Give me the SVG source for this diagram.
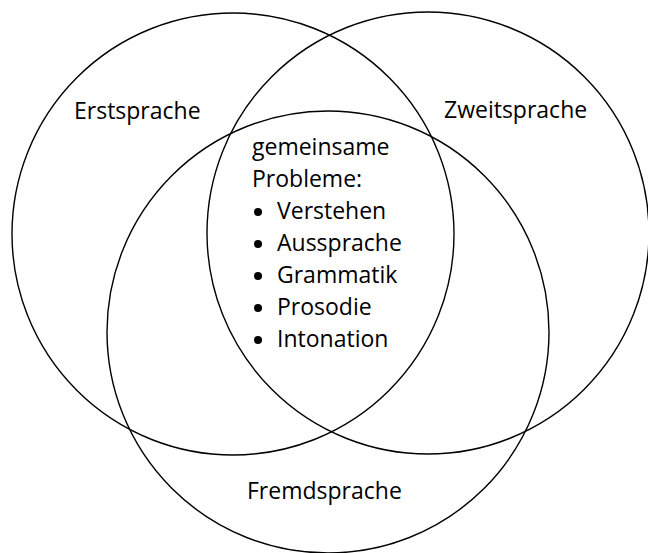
<svg xmlns="http://www.w3.org/2000/svg" width="648" height="553" viewBox="0 0 648 553">
<style>
.c{fill:none;stroke:#000;stroke-width:1.4}
.t{font-family:"Open Sans","Noto Sans",sans-serif;font-size:23px;fill:#000}
.b{fill:#000}
</style>
<rect width="648" height="553" fill="#fff"/>
<g id="erstsprache">
<circle class="c" cx="233" cy="234" r="221"/>
<text class="t" x="74" y="119">Erstsprache</text>
</g>
<g id="zweitsprache">
<circle class="c" cx="428" cy="233" r="221"/>
<text class="t" x="444" y="118">Zweitsprache</text>
</g>
<g id="fremdsprache">
<circle class="c" cx="328" cy="332" r="221"/>
<text class="t" x="247" y="499">Fremdsprache</text>
</g>
<g id="gemeinsam">
<text class="t" x="252" y="155">gemeinsame</text>
<text class="t" x="252" y="187">Probleme:</text>
<circle class="b" cx="258" cy="212" r="4"/>
<text class="t" x="277" y="219">Verstehen</text>
<circle class="b" cx="258" cy="244" r="4"/>
<text class="t" x="277" y="251">Aussprache</text>
<circle class="b" cx="258" cy="276" r="4"/>
<text class="t" x="277" y="283">Grammatik</text>
<circle class="b" cx="258" cy="308" r="4"/>
<text class="t" x="277" y="315">Prosodie</text>
<circle class="b" cx="258" cy="340" r="4"/>
<text class="t" x="277" y="347">Intonation</text>
</g>
<g id="connectors"/>
</svg>
